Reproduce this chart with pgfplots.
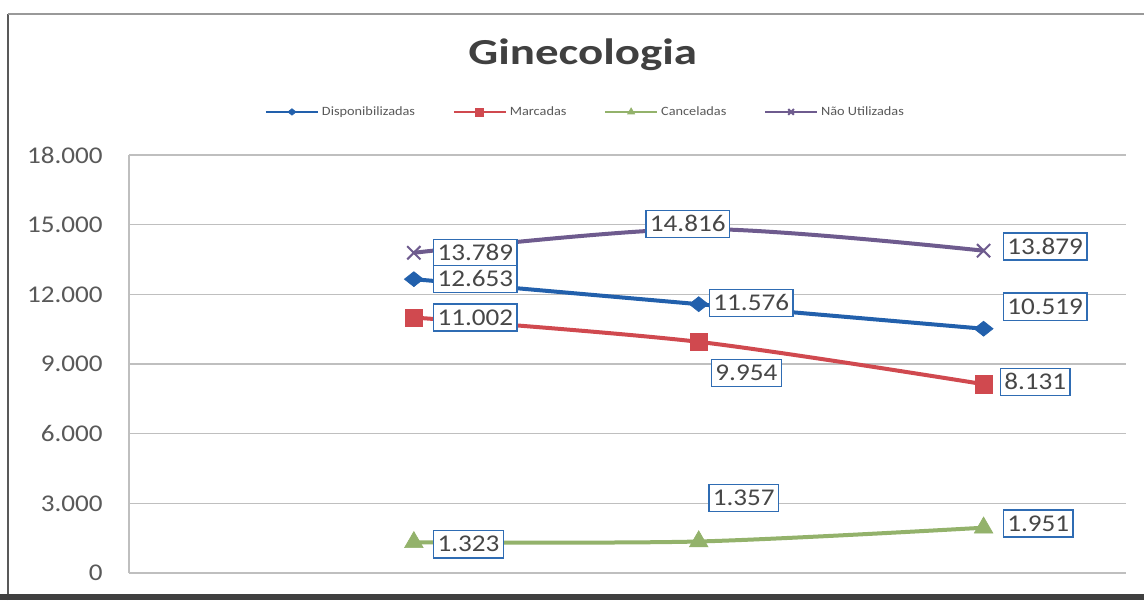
\documentclass[border=0pt]{standalone}
\usepackage{pgfplots}
\pgfplotsset{compat=1.18}
\usepackage{fontspec}
\setmainfont{Carlito}[FakeStretch=1.13]
\newfontfamily\titlefont{Carlito}[FakeStretch=1.28]

\definecolor{cDisp}{HTML}{2260AC}
\definecolor{cMarc}{HTML}{D0494F}
\definecolor{cCanc}{HTML}{93B26B}
\definecolor{cNao}{HTML}{6E5B8E}
\definecolor{boxblue}{HTML}{2F6CB3}
\definecolor{gridgray}{HTML}{BFBFBF}
\definecolor{txtgray}{HTML}{595959}

\begin{document}
\begin{tikzpicture}[x=1pt,y=1pt,
  lbl/.style={draw=boxblue, fill=white, line width=1.1pt,
    font=\fontsize{18}{20}\selectfont, text=black!72,
    inner xsep=3pt, inner ysep=4.4pt, text height=11.5pt, text depth=0pt}]
\useasboundingbox (0,0) rectangle (858,450);
\fill[white] (0,0) rectangle (858,450);
% outer chart frame
\draw[black!65, line width=2pt] (6,0) -- (6,439.5);
\draw[black!40, line width=1.2pt] (6,439.5) -- (858,439.5);
\fill[black!75] (0,0) rectangle (858,4.5);

\node[font=\titlefont\fontsize{27.5}{32}\selectfont\bfseries, text=black!75, anchor=base]
  at (437,401.25) {Ginecologia};

\begin{axis}[
  at={(96.75pt,20.25pt)}, anchor=south west, scale only axis,
  width=747.75pt, height=313.5pt,
  xmin=0, xmax=3.5, ymin=0, ymax=18000,
  ytick={0,3000,...,18000}, xtick=\empty,
  scaled y ticks=false,
  axis x line=none,
  axis y line*=left,
  axis line style={gridgray, line width=0.9pt, -},
  ymajorgrids, grid style={gridgray, line width=0.9pt},
  major tick length=0pt,
  /pgf/number format/assume math mode=true,
  yticklabel style={font=\fontsize{18}{20}\selectfont, text=txtgray,
    /pgf/number format/fixed, /pgf/number format/1000 sep={.},
    inner sep=0pt, xshift=-19.5pt},
  legend columns=4,
  legend style={at={(0.458,1.103)}, anchor=center, draw=none, fill=none,
    font=\fontsize{9.5}{11}\selectfont, text=txtgray,
    /tikz/every even column/.append style={column sep=26pt}},
  legend image code/.code={
    \draw[mark repeat=2, mark phase=2, #1, line width=2pt, mark size=3pt]
      plot coordinates {(0pt,0pt) (19.5pt,0pt) (39pt,0pt)};},
  clip=false,
]
\addplot[cDisp, line width=3pt, smooth, mark=diamond*, mark size=7pt,
  mark options={solid, fill=cDisp, line width=0.5pt, xscale=1.35, yscale=0.8}]
  coordinates {(1,12653) (2,11576) (3,10519)};
\addlegendentry{Disponibilizadas}
\addplot[cMarc, line width=3pt, smooth, mark=square*, mark size=6.5pt,
  mark options={solid, fill=cMarc, line width=0.5pt}]
  coordinates {(1,11002) (2,9954) (3,8131)};
\addlegendentry{Marcadas}
\addplot[cCanc, line width=3pt, smooth, mark=triangle*, mark size=8pt,
  mark options={solid, fill=cCanc, line width=0.5pt}]
  coordinates {(1,1323) (2,1357) (3,1951)};
\addlegendentry{Canceladas}
\addplot[cNao, line width=3pt, smooth, mark=x, mark size=7pt,
  mark options={solid, line width=1.5pt}]
  coordinates {(1,13789) (2,14816) (3,13879)};
\addlegendentry{Não Utilizadas}

% anchor points for the value labels
\coordinate (n1) at (axis cs:1,13789);
\coordinate (n2) at (axis cs:2,14816);
\coordinate (n3) at (axis cs:3,13879);
\coordinate (d1) at (axis cs:1,12653);
\coordinate (d2) at (axis cs:2,11576);
\coordinate (d3) at (axis cs:3,10519);
\coordinate (m1) at (axis cs:1,11002);
\coordinate (m2) at (axis cs:2,9954);
\coordinate (m3) at (axis cs:3,8131);
\coordinate (c1) at (axis cs:1,1323);
\coordinate (c2) at (axis cs:2,1357);
\coordinate (c3) at (axis cs:3,1951);
\end{axis}

% value labels, drawn above the series
\node[lbl, anchor=west, xshift=14.25pt] at (n1) {13.789};
\node[lbl, anchor=west, xshift=14.25pt] at (d1) {12.653};
\node[lbl, anchor=west, xshift=14.25pt] at (m1) {11.002};
\node[lbl, anchor=west, xshift=14.25pt, yshift=-1.5pt] at (c1) {1.323};
\node[lbl, anchor=center, xshift=-8.25pt, yshift=3.75pt] at (n2) {14.816};
\node[lbl, anchor=west, xshift=7.5pt, yshift=1pt] at (d2) {11.576};
\node[lbl, anchor=west, xshift=9pt, yshift=-23.25pt] at (m2) {9.954};
\node[lbl, anchor=center, xshift=33.75pt, yshift=32.6pt] at (c2) {1.357};
\node[lbl, anchor=west, xshift=14.25pt, yshift=3pt] at (n3) {13.879};
\node[lbl, anchor=west, xshift=14.25pt, yshift=16.5pt] at (d3) {10.519};
\node[lbl, anchor=west, xshift=12pt, yshift=1.5pt] at (m3) {8.131};
\node[lbl, anchor=west, xshift=14.25pt, yshift=3pt] at (c3) {1.951};
\end{tikzpicture}
\end{document}
